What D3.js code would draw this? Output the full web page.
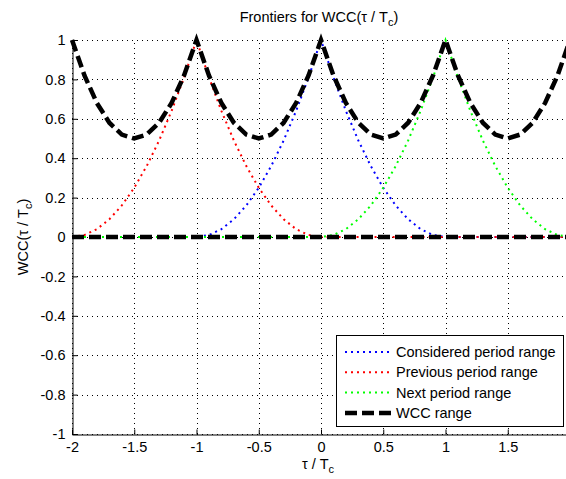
<!DOCTYPE html>
<html>
<head>
<meta charset="utf-8">
<script src="https://cdn.jsdelivr.net/npm/d3@7"></script>
<style>
  body { margin: 0; background: #fff; }
  text { font-family: "Liberation Sans", Arial, sans-serif; font-size: 14.5px; fill: #000; }
</style>
</head>
<body>
<script>
// tau / Tc sample points
var tau = [-2, -1.9, -1.8, -1.7, -1.6, -1.5, -1.4, -1.3, -1.2, -1.1,
           -1, -0.9, -0.8, -0.7, -0.6, -0.5, -0.4, -0.3, -0.2, -0.1,
           0, 0.1, 0.2, 0.3, 0.4, 0.5, 0.6, 0.7, 0.8, 0.9,
           1, 1.1, 1.2, 1.3, 1.4, 1.5, 1.6, 1.7, 1.8, 1.9, 2];

// considered period range (blue)
var considered = [0, 0, 0, 0, 0, 0, 0, 0, 0, 0,
                  0, 0.01, 0.04, 0.09, 0.16, 0.25, 0.36, 0.49, 0.64, 0.81,
                  1, 0.81, 0.64, 0.49, 0.36, 0.25, 0.16, 0.09, 0.04, 0.01,
                  0, 0, 0, 0, 0, 0, 0, 0, 0, 0, 0];
// previous period range (red)
var previous = [0, 0.01, 0.04, 0.09, 0.16, 0.25, 0.36, 0.49, 0.64, 0.81,
                1, 0.81, 0.64, 0.49, 0.36, 0.25, 0.16, 0.09, 0.04, 0.01,
                0, 0, 0, 0, 0, 0, 0, 0, 0, 0,
                0, 0, 0, 0, 0, 0, 0, 0, 0, 0, 0];
// next period range (green)
var next = [0, 0, 0, 0, 0, 0, 0, 0, 0, 0,
            0, 0, 0, 0, 0, 0, 0, 0, 0, 0,
            0, 0.01, 0.04, 0.09, 0.16, 0.25, 0.36, 0.49, 0.64, 0.81,
            1, 0.81, 0.64, 0.49, 0.36, 0.25, 0.16, 0.09, 0.04, 0.01, 0];
// WCC range, upper and lower frontier (black)
var wccUpper = [1, 0.82, 0.68, 0.58, 0.52, 0.5, 0.52, 0.58, 0.68, 0.82,
                1, 0.82, 0.68, 0.58, 0.52, 0.5, 0.52, 0.58, 0.68, 0.82,
                1, 0.82, 0.68, 0.58, 0.52, 0.5, 0.52, 0.58, 0.68, 0.82,
                1, 0.82, 0.68, 0.58, 0.52, 0.5, 0.52, 0.58, 0.68, 0.82, 1];
var wccLower = [0, 0, 0, 0, 0, 0, 0, 0, 0, 0,
                0, 0, 0, 0, 0, 0, 0, 0, 0, 0,
                0, 0, 0, 0, 0, 0, 0, 0, 0, 0,
                0, 0, 0, 0, 0, 0, 0, 0, 0, 0, 0];

var xTicks = [-2, -1.5, -1, -0.5, 0, 0.5, 1, 1.5, 2];
var yTicks = [-1, -0.8, -0.6, -0.4, -0.2, 0, 0.2, 0.4, 0.6, 0.8, 1];
var legendNames = ['Considered period range', 'Previous period range', 'Next period range', 'WCC range'];

var W = 566, H = 479;
var x = d3.scaleLinear().domain([-2, 2]).range([72, 570]);
var y = d3.scaleLinear().domain([-1, 1]).range([434, 40]);

var svg = d3.select('body').append('svg')
  .attr('width', W)
  .attr('height', H);

svg.append('rect').attr('width', W).attr('height', H).attr('fill', '#fff');

// grid
var grid = svg.append('g').attr('stroke', '#000').attr('stroke-width', 1).attr('stroke-dasharray', '1,4');
grid.selectAll('.gx').data(xTicks).enter().append('line')
  .attr('x1', function(d) { return Math.round(x(d)) + 0.5; })
  .attr('x2', function(d) { return Math.round(x(d)) + 0.5; })
  .attr('y1', y(-1)).attr('y2', y(1));
grid.selectAll('.gy').data(yTicks).enter().append('line')
  .attr('y1', function(d) { return Math.round(y(d)) + 0.5; })
  .attr('y2', function(d) { return Math.round(y(d)) + 0.5; })
  .attr('x1', x(-2)).attr('x2', x(2));

// axes
var fmt = function(d) { return String(+d.toFixed(1)); };
svg.append('g').attr('transform', 'translate(0,' + (y(-1) + 0.5) + ')')
  .call(d3.axisBottom(x).tickValues(xTicks).tickFormat(fmt).tickSize(-5).tickSizeOuter(0).tickPadding(7));
svg.append('g').attr('transform', 'translate(' + (x(-2) + 0.5) + ',0)')
  .call(d3.axisLeft(y).tickValues(yTicks).tickFormat(fmt).tickSize(-5).tickSizeOuter(0).tickPadding(7));
svg.selectAll('.domain, .tick line').attr('stroke', '#000');
svg.selectAll('.tick text').attr('font-family', null).attr('font-size', null).attr('fill', '#000');

// series
var line = d3.line()
  .x(function(d, i) { return x(tau[i]); })
  .y(function(d) { return y(d); });

var series = [
  { values: considered, color: '#0000ff', width: 2, dash: '2,4' },
  { values: previous, color: '#ff0000', width: 2, dash: '2,4' },
  { values: next, color: '#00ff00', width: 2, dash: '2,4' },
  { values: wccUpper, color: '#000', width: 4.5, dash: '12,5' },
  { values: wccLower, color: '#000', width: 4.5, dash: '12,5' }
];

svg.selectAll('path.series')
  .data(series)
  .enter()
    .append('path')
    .attr('class', 'series')
    .attr('d', function(d) { return line(d.values); })
    .attr('fill', 'none')
    .attr('stroke', function(d) { return d.color; })
    .attr('stroke-width', function(d) { return d.width; })
    .attr('stroke-dasharray', function(d) { return d.dash; });

// title and labels
var title = svg.append('text').attr('x', 319).attr('y', 22).attr('text-anchor', 'middle');
title.append('tspan').text('Frontiers for WCC(\u03C4 / T');
title.append('tspan').attr('dy', 4).attr('font-size', 11).text('c');
title.append('tspan').attr('dy', -4).text(')');

var xl = svg.append('text').attr('x', 318).attr('y', 469).attr('text-anchor', 'middle');
xl.append('tspan').text('\u03C4 / T');
xl.append('tspan').attr('dy', 4).attr('font-size', 11).text('c');

var yl = svg.append('text').attr('transform', 'translate(28,237) rotate(-90)').attr('text-anchor', 'middle');
yl.append('tspan').text('WCC(\u03C4 / T');
yl.append('tspan').attr('dy', 4).attr('font-size', 11).text('c');
yl.append('tspan').attr('dy', -4).text(')');

// legend
var lg = svg.append('g');
lg.append('rect')
  .attr('x', 336.5).attr('y', 335.5)
  .attr('width', 227).attr('height', 91)
  .attr('fill', '#fff').attr('stroke', '#000').attr('stroke-width', 1);

var rows = lg.selectAll('g.row')
  .data(series.slice(0, 4))
  .enter()
    .append('g')
    .attr('class', 'row')
    .attr('transform', function(d, i) { return 'translate(0,' + (352 + i * 20.3) + ')'; });

rows.append('line')
  .attr('x1', 345).attr('x2', 392)
  .attr('y1', 0).attr('y2', 0)
  .attr('stroke', function(d) { return d.color; })
  .attr('stroke-width', function(d) { return d.width; })
  .attr('stroke-dasharray', function(d) { return d.dash; });

rows.append('text')
  .attr('x', 396)
  .attr('y', 5)
  .text(function(d, i) { return legendNames[i]; });
</script>
</body>
</html>
